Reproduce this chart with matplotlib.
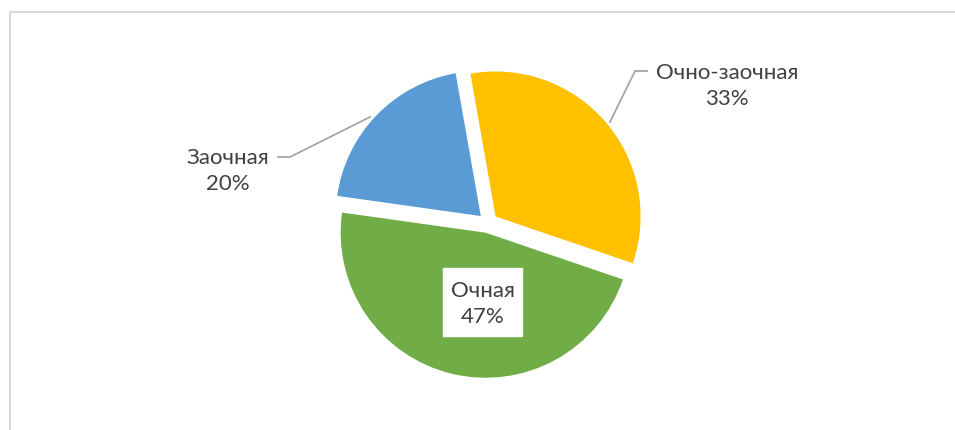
import matplotlib.pyplot as plt
from matplotlib.lines import Line2D

# data
labels = ['Очно-заочная', 'Очная', 'Заочная']
shares = [33, 47, 20]
colors = ['#FFC000', '#70AD47', '#5B9BD5']

W, H = 955, 430
fig = plt.figure(figsize=(W / 100, H / 100), dpi=100)
ax = fig.add_axes([0, 0, 1, 1])

# chart frame (only top and left edges visible)
fig.add_artist(Line2D([9.5 / W, 1], [(H - 11.5) / H] * 2, color='#d9d9d9', lw=1.5))
fig.add_artist(Line2D([9.5 / W] * 2, [0, (H - 11.5) / H], color='#d9d9d9', lw=1.5))

cx, cy, r = 488, H - 223, 145
# explode offset is in data units (pixels here)
ax.pie(shares, colors=colors, startangle=100, counterclock=False,
       center=(cx, cy), radius=r, explode=[10] * 3, frame=True)
ax.set_xlim(0, W)
ax.set_ylim(0, H)
ax.set_aspect('equal')
ax.axis('off')

txt = dict(color='#404040', fontsize=16, family=['Lato', 'DejaVu Sans'],
           ha='center', va='center', linespacing=1.35)
lc = '#a6a6a6'

# Очно-заочная
ax.plot([610, 635, 647], [H - 122, H - 71, H - 71], color=lc, lw=1.3)
ax.text(727, H - 86, f'{labels[0]}\n{shares[0]}%', **txt)

# Заочная
ax.plot([370, 290, 278], [H - 117, H - 157, H - 157], color=lc, lw=1.3)
ax.text(228, H - 171, f'{labels[2]}\n{shares[2]}%', **txt)

# Очная (white box)
ax.add_patch(plt.Rectangle((443, H - 336), 79, 68, color='white', zorder=3))
ax.text(482.5, H - 304, f'{labels[1]}\n{shares[1]}%', zorder=4, **txt)

fig.savefig('out.png', dpi=100)
